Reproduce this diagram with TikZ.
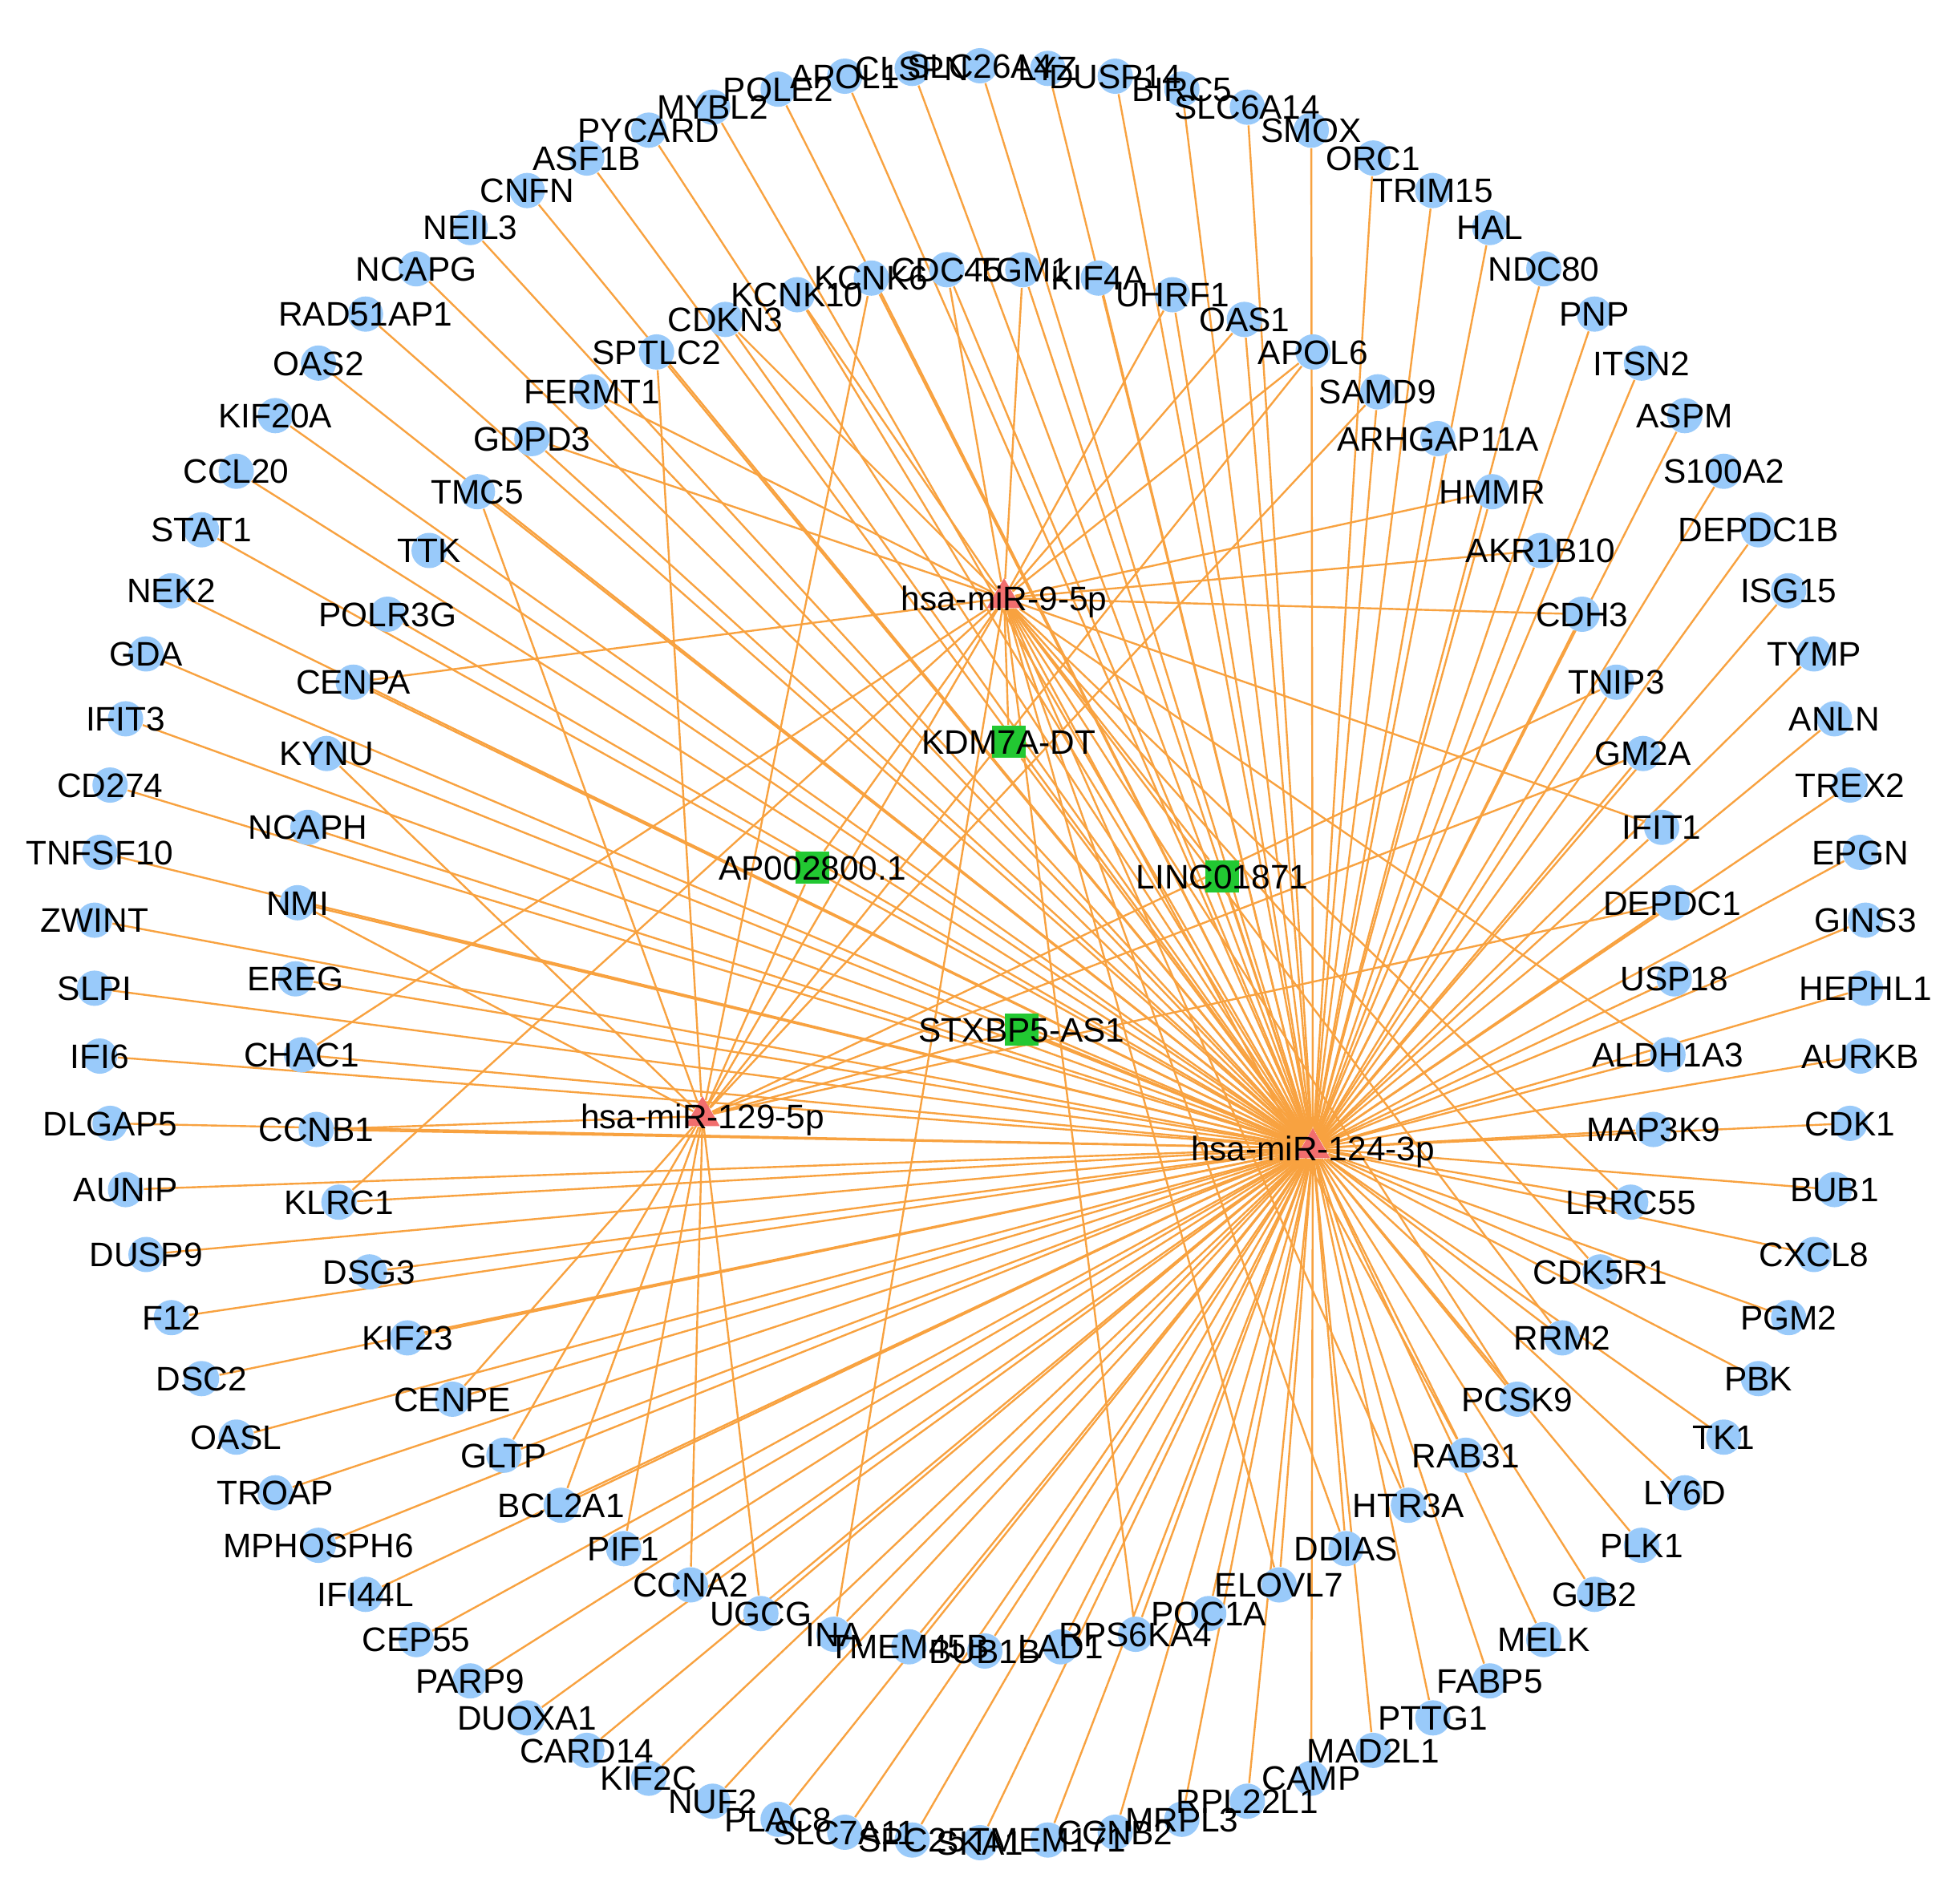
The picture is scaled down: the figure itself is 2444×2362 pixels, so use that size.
\documentclass[tikz,border=0pt]{standalone}
\usepackage{fontspec}
\setmainfont{Liberation Sans}
\usetikzlibrary{shapes.geometric}
\pgfdeclarelayer{bg}
\pgfsetlayers{bg,main}
\definecolor{genec}{RGB}{153,202,250}
\definecolor{mirc}{RGB}{242,110,110}
\definecolor{lncc}{RGB}{34,200,50}
\definecolor{edgec}{RGB}{248,162,64}
\def\outerlist{SLC26A4,LYZ,DUSP14,BIRC5,SLC6A14,SMOX,ORC1,TRIM15,HAL,NDC80,PNP,ITSN2,ASPM,S100A2,DEPDC1B,ISG15,TYMP,ANLN,TREX2,EPGN,GINS3,HEPHL1,AURKB,CDK1,BUB1,CXCL8,PGM2,PBK,TK1,LY6D,PLK1,GJB2,MELK,FABP5,PTTG1,MAD2L1,CAMP,RPL22L1,MRPL3,CCNB2,TMEM171,SKA1,SPC25,SLC7A11,PLAC8,NUF2,KIF2C,CARD14,DUOXA1,PARP9,CEP55,IFI44L,MPHOSPH6,TROAP,OASL,DSC2,F12,DUSP9,AUNIP,DLGAP5,IFI6,SLPI,ZWINT,TNFSF10,CD274,IFIT3,GDA,NEK2,STAT1,CCL20,KIF20A,OAS2,RAD51AP1,NCAPG,NEIL3,CNFN,ASF1B,PYCARD,MYBL2,POLE2,APOL1,CLSPN}
\def\innerlist{TGM1,KIF4A,UHRF1,OAS1,APOL6,SAMD9,ARHGAP11A,HMMR,AKR1B10,CDH3,TNIP3,GM2A,IFIT1,DEPDC1,USP18,ALDH1A3,MAP3K9,LRRC55,CDK5R1,RRM2,PCSK9,RAB31,HTR3A,DDIAS,ELOVL7,POC1A,RPS6KA4,LAD1,BUB1B,TMEM45B,INA,UGCG,CCNA2,PIF1,BCL2A1,GLTP,CENPE,KIF23,DSG3,KLRC1,CCNB1,CHAC1,EREG,NMI,NCAPH,KYNU,CENPA,POLR3G,TTK,TMC5,GDPD3,FERMT1,SPTLC2,CDKN3,KCNK10,KCNK6,CDC45}
\def\toC{TGM1,KIF4A,UHRF1,OAS1,SAMD9,ARHGAP11A,HMMR,AKR1B10,CDH3,TNIP3,GM2A,IFIT1,DEPDC1,USP18,ALDH1A3,MAP3K9,LRRC55,CDK5R1,RRM2,PCSK9,RAB31,HTR3A,DDIAS,ELOVL7,POC1A,RPS6KA4,LAD1,BUB1B,TMEM45B,INA,UGCG,CCNA2,PIF1,BCL2A1,GLTP,CENPE,KIF23,DSG3,KLRC1,CCNB1,CHAC1,EREG,NMI,NCAPH,KYNU,CENPA,POLR3G,TTK,TMC5,GDPD3,FERMT1,SPTLC2,CDKN3,KCNK10,KCNK6,CDC45}
\def\toA{TGM1,UHRF1,OAS1,APOL6,HMMR,AKR1B10,CDH3,IFIT1,ALDH1A3,LRRC55,CDK5R1,RRM2,PCSK9,RAB31,HTR3A,DDIAS,ELOVL7,RPS6KA4,INA,GLTP,KLRC1,CHAC1,CENPA,FERMT1,GDPD3,CDKN3,KCNK10,CDC45}
\def\toB{APOL6,SAMD9,TNIP3,GM2A,DEPDC1,UGCG,CCNA2,PIF1,BCL2A1,CENPE,CCNB1,NMI,KYNU,TMC5,SPTLC2,KCNK6}
\begin{document}
\begin{tikzpicture}[x=0.25pt,y=-0.25pt,
  gene/.style={circle,fill=genec,minimum size=11pt,inner sep=0pt},
  mir/.style={regular polygon,regular polygon sides=3,fill=mirc,minimum size=12.5pt,inner sep=0pt},
  lnc/.style={rectangle,fill=lncc,minimum width=10.5pt,minimum height=10pt,inner sep=0pt},
  lbl/.style={font=\fontsize{10.6}{12}\selectfont,text height=7.6pt,text depth=0pt,inner sep=0pt},
  edge/.style={draw=edgec,line width=0.6pt}]
\useasboundingbox (0,0) rectangle (2444,2362);
% outer ring
\foreach \n [count=\i from 0] in \outerlist
  \node[gene] (\n) at ({1222+1105*sin(\i*4.390244)},{1190-1108*cos(\i*4.390244)}) {};
% inner ring
\foreach \n [count=\i from 0] in \innerlist
  \node[gene] (\n) at ({1228+860*sin(3.158+\i*6.315789)},{1197-862*cos(3.158+\i*6.315789)}) {};
% miRNAs
\node[mir] (mA) at (1252,746) {};
\node[mir] (mB) at (876,1392) {};
\node[mir] (mC) at (1637,1432) {};
% lncRNAs
\node[lnc] (lK) at (1258,925) {};
\node[lnc] (lP) at (1013,1082) {};
\node[lnc] (lL) at (1524,1093) {};
\node[lnc] (lS) at (1274,1284) {};
% edges
\begin{pgfonlayer}{bg}
\fill[white] (0,0) rectangle (2444,2362);
\foreach \n in \outerlist \draw[edge] (\n) -- (mC);
\foreach \n in \toC \draw[edge] (\n) -- (mC);
\foreach \n in \toA \draw[edge] (\n) -- (mA);
\foreach \n in \toB \draw[edge] (\n) -- (mB);
\draw[edge] (lK) -- (mA);
\draw[edge] (lK) -- (mC);
\draw[edge] (lP) -- (mA);
\draw[edge] (lP) -- (mB);
\draw[edge] (lL) -- (mA);
\draw[edge] (lL) -- (mC);
\draw[edge] (lS) -- (mB);
\draw[edge] (lS) -- (mC);
\end{pgfonlayer}
% labels
\foreach \n in \outerlist \node[lbl] (\n-t) at (\n) {\n};
\foreach \n in \innerlist \node[lbl] (\n-t) at (\n) {\n};
\node[lbl] (mA-t) at (mA) {hsa-miR-9-5p};
\node[lbl] (mB-t) at (mB) {hsa-miR-129-5p};
\node[lbl] (mC-t) at (mC) {hsa-miR-124-3p};
\node[lbl] (lK-t) at (lK) {KDM7A-DT};
\node[lbl] (lP-t) at (lP) {AP002800.1};
\node[lbl] (lL-t) at (lL) {LINC01871};
\node[lbl] (lS-t) at (lS) {STXBP5-AS1};
\end{tikzpicture}
\end{document}
